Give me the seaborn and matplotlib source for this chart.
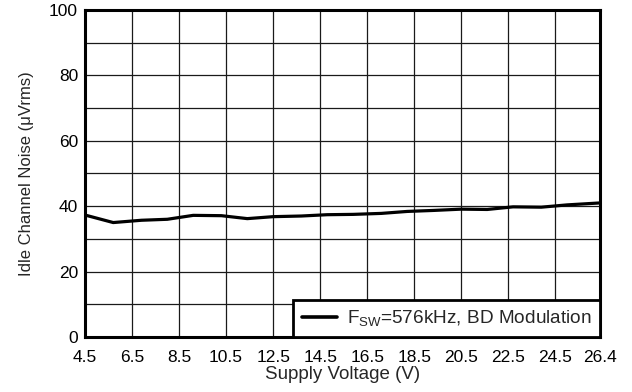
import numpy as np
import pandas as pd
import matplotlib
matplotlib.use("Agg")
import matplotlib.pyplot as plt
from matplotlib.ticker import MultipleLocator
import seaborn as sns

# Idle channel noise vs. supply voltage
supply_voltage = [4.5, 5.7, 6.9, 8.0, 9.1, 10.3, 11.4, 12.5, 13.7, 14.8,
                  15.9, 17.1, 18.2, 19.3, 20.5, 21.6, 22.7, 23.9, 25.0, 26.4]
noise_uvrms = [37.3, 35.0, 35.7, 36.0, 37.2, 37.1, 36.2, 36.8, 37.0, 37.4,
               37.5, 37.8, 38.4, 38.7, 39.1, 39.0, 39.8, 39.7, 40.4, 41.0]
x_ticks = [4.5, 6.5, 8.5, 10.5, 12.5, 14.5, 16.5, 18.5, 20.5, 22.5, 24.5, 26.4]
x_tick_labels = ["4.5", "6.5", "8.5", "10.5", "12.5", "14.5", "16.5",
                 "18.5", "20.5", "22.5", "24.5", "26.4"]
series_label = r"$\mathregular{F_{SW}}$=576kHz, BD Modulation"

sns.set_style("white")
plt.rcParams["font.family"] = ["Liberation Sans", "DejaVu Sans"]
plt.rcParams["mathtext.fontset"] = "custom"
plt.rcParams["mathtext.rm"] = "Liberation Sans"

df = pd.DataFrame({"Supply Voltage (V)": supply_voltage,
                   "Noise": noise_uvrms,
                   "series": series_label})

fig = plt.figure(figsize=(6.32, 3.92), dpi=100)
ax = fig.add_axes([0.1345, 0.1403, 0.9495 - 0.1345, 0.9745 - 0.1403])

sns.lineplot(data=df, x="Supply Voltage (V)", y="Noise", hue="series",
             palette=["black"], linewidth=2.3, ax=ax, zorder=3)

ax.set_xlim(4.5, 26.4)
ax.set_ylim(0, 100)
ax.set_xticks(x_ticks)
ax.set_xticklabels(x_tick_labels)
ax.yaxis.set_major_locator(MultipleLocator(20))
ax.yaxis.set_minor_locator(MultipleLocator(10))

ax.grid(True, which="major", axis="x", color="#1a1a1a", linewidth=0.9)
ax.grid(True, which="both", axis="y", color="#1a1a1a", linewidth=0.9)
ax.set_axisbelow(True)

ax.tick_params(axis="both", which="both", length=0, labelsize=12.5, colors="black")
ax.tick_params(axis="x", pad=9)
ax.tick_params(axis="y", pad=5)

for sp in ax.spines.values():
    sp.set_visible(True)
    sp.set_color("black")
    sp.set_linewidth(2.2)

ax.set_xlabel("Supply Voltage (V)", fontsize=13.5, labelpad=1)
ax.set_ylabel("Idle Channel Noise (\u03bcVrms)", fontsize=12, labelpad=11)

leg = ax.legend(loc="lower right", borderaxespad=0, fancybox=False,
                frameon=True, fontsize=13.7, handlelength=1.85,
                handletextpad=0.5, borderpad=0.45, title=None)
leg.get_frame().set_edgecolor("black")
leg.get_frame().set_linewidth(2.0)
leg.get_frame().set_alpha(1)
for line in leg.get_lines():
    line.set_linewidth(2.6)
leg.set_zorder(5)

fig.savefig("out.png", dpi=100)
